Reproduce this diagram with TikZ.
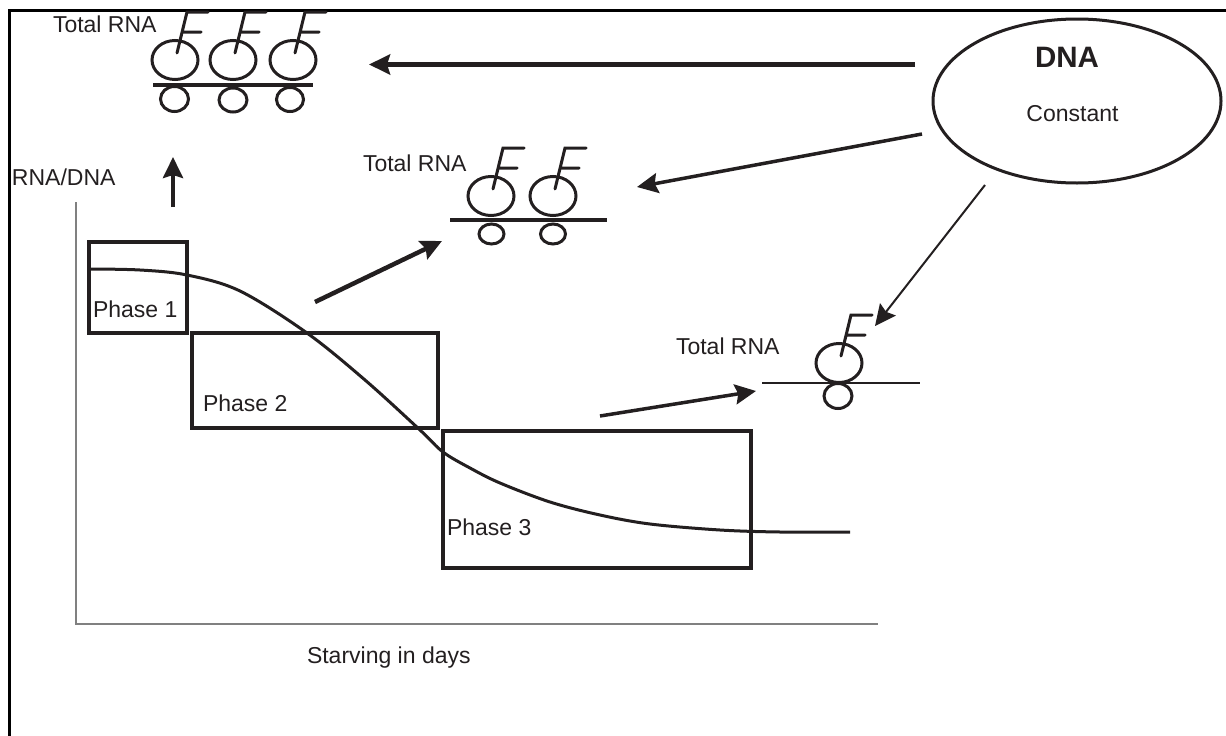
\documentclass[tikz,border=0pt]{standalone}
\usepackage{fontspec}
\setmainfont{Liberation Sans}
\usetikzlibrary{arrows.meta,shapes.geometric}
\definecolor{inkc}{RGB}{35,31,32}
\definecolor{axisc}{RGB}{128,128,128}
\begin{document}
\begin{tikzpicture}[x=1pt,y=-1pt,
  ink/.style={draw=inkc, line width=3pt},
  lbl/.style={anchor=base west, inner sep=0pt, outer sep=0pt, text=inkc, font=\fontsize{23}{27}\selectfont},
  phasebox/.style={draw=inkc, line width=3.3pt, inner sep=0pt, outer sep=0pt},
  headtip/.style={-{Stealth[length=21pt,width=20pt,inset=3pt]}},
  bigarrow/.style={draw=inkc, line width=#1, headtip},
  ribo/.pic={
    \draw[ink] (0,0) ellipse [x radius=23pt, y radius=19.5pt];
    \draw[ink, line cap=round] (2,-7) -- (12,-48) -- (33,-48) (7,-28) -- (26,-28);
  }
]
\useasboundingbox (0,0) rectangle (1226,736);

% frame
\draw[line width=3pt] (9,736) -- (9,10.5) -- (1226,10.5);

% axes
\coordinate (ytop) at (76,202);
\coordinate (orig) at (76,624);
\coordinate (xend) at (878,624);
\draw[axisc, line width=1.5pt] (ytop) -- (orig) -- (xend);
\node[lbl] (ylab) at (12,185) {RNA/DNA};
\node[lbl] (xlab) at (307,663) {Starving in days};

% phase boxes
\node[phasebox, minimum width=98pt, minimum height=91pt] (p1) at (138,287.5) {};
\node[phasebox, minimum width=246pt, minimum height=95pt] (p2) at (315,380.5) {};
\node[phasebox, minimum width=308pt, minimum height=137pt] (p3) at (597,499.5) {};
\node[lbl] (p1t) at (93,317) {Phase 1};
\node[lbl] (p2t) at (203,411.5) {Phase 2};
\node[lbl] (p3t) at (447,535) {Phase 3};

% curve
\draw[draw=inkc, line width=3pt] plot[smooth, tension=0.55] coordinates
  {(89,269) (140,270) (187,275) (240,291) (307,333) (365,380) (420,430) (443,452) (470,468) (500,483) (550,502) (600,515) (650,524) (720,530) (780,532) (850,532)};

% DNA ellipse
\node[ellipse, draw=inkc, line width=3pt, minimum width=288pt, minimum height=164pt, inner sep=0pt, outer sep=0pt] (dna) at (1077,101) {};
\node[anchor=base, inner sep=0pt, text=inkc, font=\fontsize{29.5}{34}\selectfont\bfseries] (dnat) at (1067,67) {DNA};
\node[anchor=base, inner sep=0pt, text=inkc, font=\fontsize{23}{27}\selectfont] (const) at (1072.5,121.7) {Constant};

% top ribosomes
\node[lbl] (rna1) at (53,32) {Total RNA};
\pic at (175,60) {ribo};
\pic at (233,60) {ribo};
\pic at (293,60) {ribo};
\draw[draw=inkc, line width=4pt] (153,85) -- (313,85);
\draw[ink] (174.5,99) ellipse [x radius=14pt, y radius=12.5pt];
\draw[ink] (233,100) ellipse [x radius=14pt, y radius=12pt];
\draw[ink] (290,99.5) ellipse [x radius=13.5pt, y radius=12pt];

% middle ribosomes
\node[lbl] (rna2) at (363,171.5) {Total RNA};
\pic at (491,196) {ribo};
\pic at (553,196) {ribo};
\draw[draw=inkc, line width=4pt] (450,220) -- (607,220);
\draw[ink] (491.5,234) ellipse [x radius=12.5pt, y radius=10pt];
\draw[ink] (553,234) ellipse [x radius=12.5pt, y radius=10pt];

% lower ribosome
\node[lbl] (rna3) at (676,354) {Total RNA};
\pic at (839,363) {ribo};
\draw[draw=inkc, line width=2.7pt] (762,383) -- (920,383);
\draw[ink] (838,396) ellipse [x radius=14pt, y radius=12.5pt];

% arrow end points
\coordinate (upS) at (173,207);
\coordinate (upE) at (173,157);
\coordinate (topS) at (915,64.5);
\coordinate (topE) at (369,64.5);
\coordinate (midS) at (922,134);
\coordinate (midE) at (637,187);
\coordinate (lowS) at (985,185);
\coordinate (lowE) at (875,326);
\coordinate (ph1S) at (315,302);
\coordinate (ph1E) at (442,241);
\coordinate (ph3S) at (600,416);
\coordinate (ph3E) at (756,391);

% arrows
\draw[bigarrow=4pt] (upS) -- (upE);
\draw[bigarrow=5pt] (topS) -- (topE);
\draw[bigarrow=3.5pt] (midS) -- (midE);
\draw[bigarrow=2pt] (lowS) -- (lowE);
\draw[bigarrow=4.5pt] (ph1S) -- (ph1E);
\draw[bigarrow=3.5pt] (ph3S) -- (ph3E);
\end{tikzpicture}
\end{document}
